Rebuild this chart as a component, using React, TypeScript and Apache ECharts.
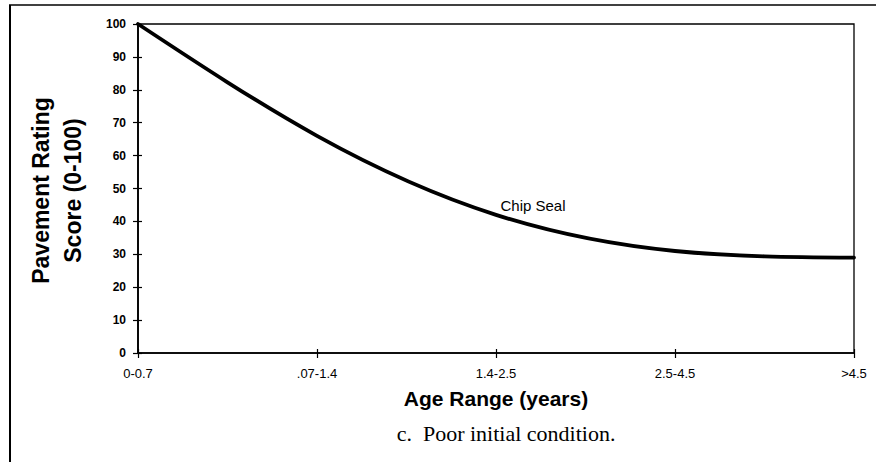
import React, { useEffect, useRef } from "react";
import * as echarts from "echarts";

// Age ranges along the horizontal axis
const ageRanges = ["0-0.7", ".07-1.4", "1.4-2.5", "2.5-4.5", ">4.5"];
// Chip seal pavement rating score for each age range
const chipSealScores = [100, 66, 42, 31, 29];
// Score axis ticks
const scoreMin = 0;
const scoreMax = 100;
const scoreStep = 10;

const W = 876;
const H = 462;
const GRID = { left: 138, right: 22, top: 24, bottom: 109 };
const SANS = "'Liberation Sans', Arial, sans-serif";

// Slopes (per category step) of a natural cubic spline through the values
function splineSlopes(y: number[]): number[] {
  const n = y.length - 1;
  const M = new Array(n + 1).fill(0);
  if (n >= 2) {
    const a: number[] = [], b: number[] = [], c: number[] = [], d: number[] = [];
    for (let i = 1; i < n; i++) {
      a.push(1); b.push(4); c.push(1);
      d.push(6 * (y[i + 1] - 2 * y[i] + y[i - 1]));
    }
    const m = d.length;
    for (let i = 1; i < m; i++) {
      const w = a[i] / b[i - 1];
      b[i] -= w * c[i - 1];
      d[i] -= w * d[i - 1];
    }
    const sol = new Array(m).fill(0);
    sol[m - 1] = d[m - 1] / b[m - 1];
    for (let i = m - 2; i >= 0; i--) sol[i] = (d[i] - c[i] * sol[i + 1]) / b[i];
    for (let i = 0; i < m; i++) M[i + 1] = sol[i];
  }
  const s: number[] = [];
  for (let i = 0; i < n; i++) s.push(y[i + 1] - y[i] - (2 * M[i] + M[i + 1]) / 6);
  s.push(y[n] - y[n - 1] + (M[n - 1] + 2 * M[n]) / 6);
  return s;
}

export default function App() {
  const ref = useRef<HTMLDivElement>(null);

  useEffect(() => {
    if (!ref.current) return;
    const chart = echarts.init(ref.current, null, { renderer: "svg" });
    const plotW = W - GRID.left - GRID.right;
    const plotH = H - GRID.top - GRID.bottom;
    const slopes = splineSlopes(chipSealScores);

    chart.setOption({
      animation: false,
      backgroundColor: "#ffffff",
      grid: { ...GRID, show: true, borderColor: "#000", borderWidth: 1.3, backgroundColor: "transparent" },
      xAxis: [
        {
          type: "category",
          data: ageRanges,
          boundaryGap: false,
          axisLine: { lineStyle: { color: "#000", width: 1.5 } },
          axisTick: { show: true, length: 5, lineStyle: { color: "#000", width: 1.2 } },
          axisLabel: {
            color: "#000",
            fontFamily: SANS,
            fontSize: 13,
            margin: 14,
          },
          splitLine: { show: false },
        },
        {
          type: "category",
          data: ageRanges,
          boundaryGap: false,
          position: "bottom",
          axisLine: { show: false },
          axisTick: { show: true, inside: true, length: 4, lineStyle: { color: "#000", width: 1.2 } },
          axisLabel: { show: false },
          splitLine: { show: false },
        },
      ],
      yAxis: [
        {
          type: "value",
          min: scoreMin,
          max: scoreMax,
          interval: scoreStep,
          axisLine: { show: true, lineStyle: { color: "#000", width: 1.8 } },
          axisTick: { show: true, length: 5, lineStyle: { color: "#000", width: 1.2 } },
          axisLabel: {
            color: "#000",
            fontFamily: SANS,
            fontWeight: "bold",
            fontSize: 12,
            margin: 12,
          },
          splitLine: { show: false },
        },
        {
          type: "value",
          min: scoreMin,
          max: scoreMax,
          interval: scoreStep,
          position: "left",
          axisLine: { show: false },
          axisTick: { show: true, inside: true, length: 4, lineStyle: { color: "#000", width: 1.2 } },
          axisLabel: { show: false },
          splitLine: { show: false },
        },
      ],
      series: [
        {
          name: "Chip Seal",
          type: "custom",
          xAxisIndex: 0,
          yAxisIndex: 0,
          clip: false,
          data: chipSealScores.map((v, i) => [i, v]),
          encode: { x: 0, y: 1 },
          renderItem: (params: any, api: any) => {
            if (params.dataIndex !== 0) return null;
            const pts = chipSealScores.map((v, i) => api.coord([i, v]));
            const unitY = api.coord([0, 1])[1] - api.coord([0, 0])[1];
            let d = `M${pts[0][0]},${pts[0][1]}`;
            for (let i = 0; i < pts.length - 1; i++) {
              const dx = (pts[i + 1][0] - pts[i][0]) / 3;
              const c1x = pts[i][0] + dx;
              const c1y = pts[i][1] + (slopes[i] / 3) * unitY;
              const c2x = pts[i + 1][0] - dx;
              const c2y = pts[i + 1][1] - (slopes[i + 1] / 3) * unitY;
              d += ` C${c1x},${c1y} ${c2x},${c2y} ${pts[i + 1][0]},${pts[i + 1][1]}`;
            }
            return {
              type: "path",
              shape: { pathData: d },
              style: { stroke: "#000", lineWidth: 3.8, fill: "none", lineJoin: "round", lineCap: "round" },
            };
          },
        },
      ],
      graphic: [
        // outer frame
        { type: "line", shape: { x1: 9, y1: 5, x2: W, y2: 5 }, style: { stroke: "#000", lineWidth: 1.5 } },
        { type: "line", shape: { x1: 10, y1: 5, x2: 10, y2: H }, style: { stroke: "#000", lineWidth: 2 } },
        {
          type: "text",
          x: 57,
          y: GRID.top + plotH / 2 + 2,
          rotation: Math.PI / 2,
          style: {
            text: "Pavement Rating\nScore (0-100)",
            fill: "#000",
            font: `bold 23px ${SANS}`,
            lineHeight: 32,
            textAlign: "center",
            textVerticalAlign: "middle",
          },
        },
        {
          type: "text",
          x: GRID.left + plotW / 2,
          y: 398,
          style: {
            text: "Age Range (years)",
            fill: "#000",
            font: `bold 21px ${SANS}`,
            textAlign: "center",
            textVerticalAlign: "middle",
          },
        },
        {
          type: "text",
          x: 506,
          y: 433,
          style: {
            text: "c.  Poor initial condition.",
            fill: "#000",
            font: "22px 'Liberation Serif', 'Times New Roman', serif",
            textAlign: "center",
            textVerticalAlign: "middle",
          },
        },
        {
          type: "text",
          x: 533,
          y: 205,
          style: {
            text: "Chip Seal",
            fill: "#000",
            font: `15px ${SANS}`,
            textAlign: "center",
            textVerticalAlign: "middle",
          },
        },
      ],
    });
    return () => chart.dispose();
  }, []);

  return (
    <div
      ref={ref}
      style={{ position: "fixed", left: 0, top: 0, width: W, height: H, background: "#fff" }}
    />
  );
}
